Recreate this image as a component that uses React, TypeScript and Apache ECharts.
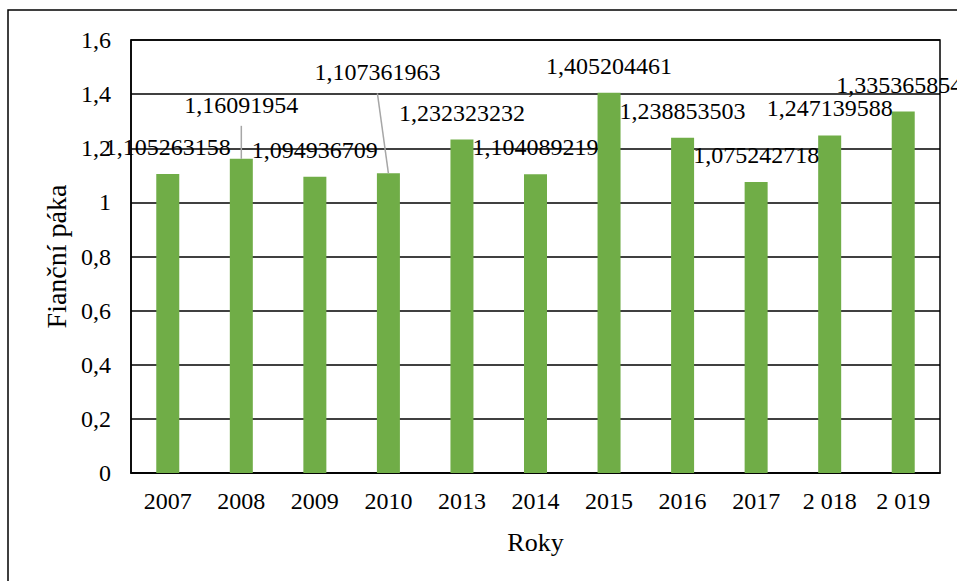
import React, { useEffect, useRef } from "react";
import * as echarts from "echarts";

const years = ["2007", "2008", "2009", "2010", "2013", "2014", "2015", "2016", "2017", "2 018", "2 019"];
const leverage = [
  1.105263158, 1.16091954, 1.094936709, 1.107361963, 1.232323232, 1.104089219,
  1.405204461, 1.238853503, 1.075242718, 1.247139588, 1.335365854,
];
const yMin = 0;
const yMax = 1.6;
const yStep = 0.2;
const xTitle = "Roky";
const yTitle = "Fianční páka";

// label displacement (moved labels), in px; leader lines only for the first two
const labelOffsets: Record<number, [number, number]> = { 1: [0, -27], 3: [-11, -74], 10: [-4, 0] };
const leaderLines = [1, 3];

const FONT = "'Liberation Serif', 'Times New Roman', serif";
const toComma = (v: number) => String(v).replace(".", ",");

export default function App() {
  const ref = useRef<HTMLDivElement>(null);
  useEffect(() => {
    if (!ref.current) return;
    const chart = echarts.init(ref.current, null, { renderer: "svg" });
    chart.setOption({
      animation: false,
      backgroundColor: "#fff",
      textStyle: { fontFamily: FONT },
      grid: {
        left: 131,
        top: 40,
        right: 17,
        bottom: 108,
        show: true,
        borderColor: "#000",
        borderWidth: 1.5,
        backgroundColor: "transparent",
      },
      xAxis: {
        type: "category",
        data: years,
        axisLine: { lineStyle: { color: "#000", width: 1.5 } },
        axisTick: { show: false },
        axisLabel: { color: "#000", fontSize: 24, margin: 16, fontFamily: FONT },
        name: xTitle,
        nameLocation: "middle",
        nameGap: 56,
        nameTextStyle: { color: "#000", fontSize: 26, fontFamily: FONT },
      },
      yAxis: {
        type: "value",
        min: yMin,
        max: yMax,
        interval: yStep,
        axisLine: { show: true, lineStyle: { color: "#000", width: 1.5 } },
        axisTick: { show: false },
        splitLine: { lineStyle: { color: "#000", width: 1.5 } },
        axisLabel: {
          color: "#000",
          fontSize: 24,
          margin: 20,
          fontFamily: FONT,
          formatter: (v: number) => toComma(+v.toFixed(1)),
        },
        name: yTitle,
        nameLocation: "middle",
        nameGap: 53,
        nameRotate: 90,
        nameTextStyle: { color: "#000", fontSize: 28, fontFamily: FONT },
      },
      series: [
        {
          type: "bar",
          barWidth: 23,
          itemStyle: { color: "#70AD47" },
          label: {
            show: true,
            position: "top",
            distance: 15,
            color: "#000",
            fontSize: 24,
            fontFamily: FONT,
            formatter: (p: any) => toComma(p.value),
          },
          data: leverage.map((v, i) =>
            labelOffsets[i] ? { value: v, label: { offset: labelOffsets[i] } } : { value: v }
          ),
        },
      ],
    });

    const elements: any[] = [
      {
        type: "rect",
        shape: { x: 8, y: 10, width: 1200, height: 800 },
        style: { fill: "none", stroke: "#000", lineWidth: 1.5 },
        silent: true,
      },
    ];
    leaderLines.forEach((i) => {
      const [dx, dy] = labelOffsets[i];
      const pt = chart.convertToPixel({ seriesIndex: 0 }, [i, leverage[i]]) as number[];
      elements.push({
        type: "line",
        z: 10,
        shape: { x1: pt[0] + dx, y1: pt[1] + dy - 6, x2: pt[0], y2: pt[1] },
        style: { stroke: "#A6A6A6", lineWidth: 1.5 },
        silent: true,
      });
    });
    chart.setOption({ graphic: { elements } });

    return () => chart.dispose();
  }, []);
  return (
    <div
      ref={ref}
      style={{ position: "fixed", left: 0, top: 0, width: 957, height: 581, background: "#fff" }}
    />
  );
}
